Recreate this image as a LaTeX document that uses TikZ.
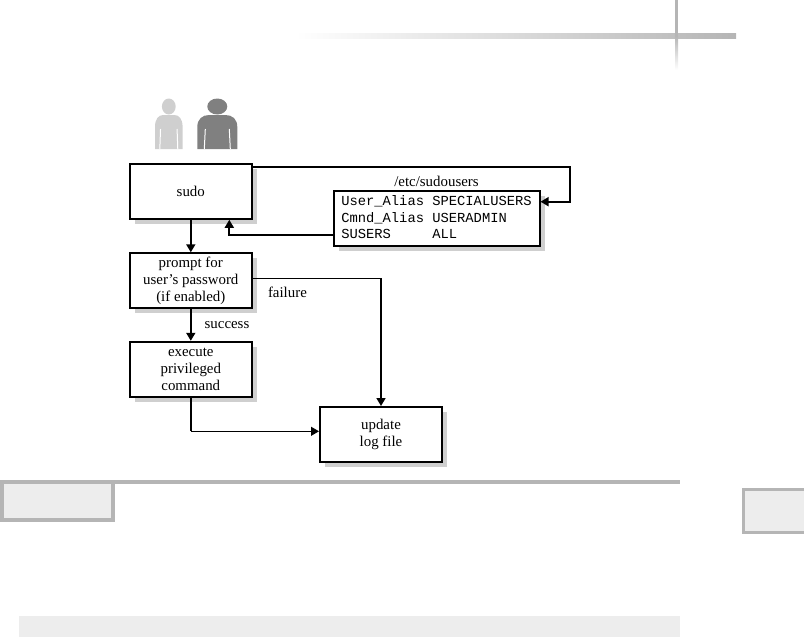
\documentclass[tikz,border=0pt]{standalone}
\usepackage{xcolor}
\usepackage{fontspec}
\setmainfont{Liberation Serif}
\setmonofont{Liberation Mono}
\usetikzlibrary{positioning,arrows.meta,shadows}
\definecolor{rulegray}{HTML}{B5B5B5}
\definecolor{panelgray}{HTML}{EDEDED}
\definecolor{shadowgray}{HTML}{CFCFCF}
\tikzset{person/.pic={
  \fill[pic actions] (0,42.5) ellipse (10 and 8);
  \fill[pic actions] (-20,0) -- (-20,22) .. controls (-20,30) and (-15,34) .. (-8,34) -- (8,34) .. controls (15,34) and (20,30) .. (20,22) -- (20,0) -- cycle;
  \draw[white, line width=1pt] (-12,20) -- (-13,0) (12,20) -- (13,0);
}}
\begin{document}
\begin{tikzpicture}[x=1pt, y=1pt, every node/.style={font=\fontsize{14.9}{16.6}\selectfont},
  st/.style={draw, line width=2pt, fill=white, minimum width=122pt, minimum height=55pt, align=center, inner sep=0pt,
    drop shadow={shadow xshift=5pt, shadow yshift=-5pt, fill=shadowgray, opacity=1}},
  heavy/.style={line width=1.7pt, -{Triangle[length=8pt,width=9pt]}},
  light/.style={line width=1pt},
  txt/.style={inner sep=0pt}]
\useasboundingbox (0,0) rectangle (804,-637);
% page furniture
\shade[left color=white, right color=rulegray] (296,-33) rectangle (736,-38);
\fill[rulegray] (675,0) rectangle (678,-36);
\shade[top color=rulegray, bottom color=white] (675,-36) rectangle (678,-70);
\fill[rulegray] (0,-480) rectangle (680,-484);
\fill[rulegray] (0,-484) rectangle (115,-522);
\fill[panelgray] (4,-484) rectangle (111,-518);
\fill[rulegray] (742,-488) rectangle (804,-534);
\fill[panelgray] (745,-491) rectangle (804,-531);
\fill[panelgray] (19,-616) rectangle (680,-637);
% users
\pic[fill=shadowgray, xscale=0.69] at (168.8,-149) {person};
\pic[fill=black!50] at (217.3,-149) {person};
% boxes
\node[st] (sudo) at (190.8,-191.3) {sudo};
\node[st, below=32.5pt of sudo] (prompt) {prompt for\\user's password\\(if enabled)};
\node[st, below=31.5pt of prompt] (exec) {execute\\privileged\\command};
\node[st] (update) at (381,-434.5) {update\\log file};
\node[st, minimum width=206pt] (alias) at (436.5,-218.7) {\fontsize{13.8}{16.7}\selectfont\ttfamily\begin{tabular}{@{}l@{\ }l@{}}User\_Alias & SPECIALUSERS\\Cmnd\_Alias & USERADMIN\\SUSERS & ALL\end{tabular}};
\node[txt, above=3pt of alias] (file) {/etc/sudousers};
\node[txt, right=15pt of prompt, yshift=-12pt] (failure) {failure};
\coordinate (failbend) at ([yshift=2.7pt]update.north |- prompt.east);
\coordinate (execbend) at ([yshift=3.2pt]exec.south |- update.west);
% connectors
\draw[heavy] (sudo) -- (prompt);
\draw[heavy] (prompt) -- node[txt, right=13pt] (success) {success} (exec);
\draw[heavy] ([yshift=24.3pt]sudo.east) -- ++(317pt,0) |- ([yshift=17pt]alias.east);
\draw[heavy] ([yshift=-16pt]alias.west) -| ([xshift=38.5pt]sudo.south);
\draw[light] (prompt.east |- failbend) -- (failbend);
\draw[heavy] (failbend) -- (update.north);
\draw[heavy, -] (exec.south) -- (execbend);
\draw[light, -{Triangle[length=8pt,width=9pt]}] (execbend) -- (update.west |- execbend);
\end{tikzpicture}
\end{document}
